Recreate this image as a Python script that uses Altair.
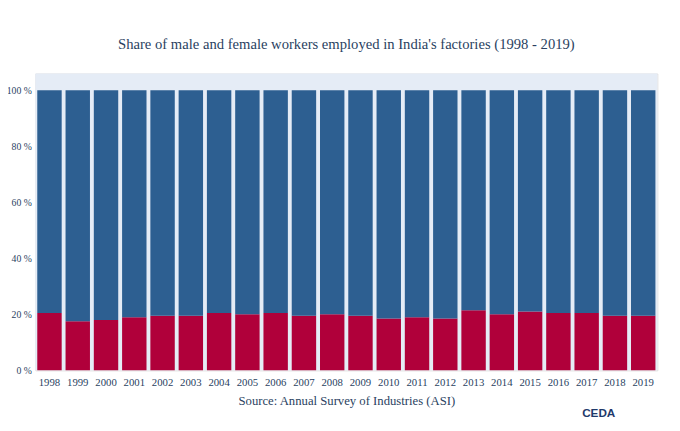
import altair as alt
import pandas as pd

years = [str(y) for y in range(1998, 2020)]
female = [20.5, 17.5, 18, 19, 19.5, 19.5, 20.5, 20, 20.5, 19.5, 20, 19.5,
          18.5, 19, 18.5, 21.5, 20, 21, 20.5, 20.5, 19.5, 19.5]
male = [100 - f for f in female]

df = pd.DataFrame({
    "year": years * 2,
    "share": female + male,
    "gender": ["Female"] * len(years) + ["Male"] * len(years),
    "order": [0] * len(years) + [1] * len(years),
})

font = "Liberation Serif"
W, H = 637, 304

bg = alt.Chart(pd.DataFrame({"a": [0]})).mark_rect(color="#e5ecf6").encode(
    x=alt.value(0), x2=alt.value(W), y=alt.value(0), y2=alt.value(H)
)

bars = alt.Chart(df).mark_bar(size=25).encode(
    x=alt.X("year:N", title="Source: Annual Survey of Industries (ASI)",
            axis=alt.Axis(labelAngle=0, ticks=False, domain=False, labelPadding=6,
                          titlePadding=8, titleFontSize=13, titleFontWeight="normal",
                          titleColor="#2a3f5f", labelColor="#2a3f5f", labelFont=font,
                          titleFont=font, labelFontSize=11)),
    y=alt.Y("share:Q", stack="zero", title=None,
            scale=alt.Scale(domain=[0, 106], nice=False),
            axis=alt.Axis(values=[0, 20, 40, 60, 80, 100], labelExpr="datum.value + ' %'",
                          grid=False, ticks=False, domain=False, labelFont=font,
                          labelColor="#2a3f5f", labelFontSize=10, labelPadding=4)),
    color=alt.Color("gender:N", legend=None,
                    scale=alt.Scale(domain=["Female", "Male"], range=["#b0003a", "#2d5f91"])),
    order=alt.Order("order:Q"),
)

logo = alt.Chart(pd.DataFrame({"t": ["CEDA"]})).mark_text(
    font="Liberation Sans", fontWeight="bold", fontSize=12, color="#1f3a6b", align="left"
).encode(x=alt.value(560), y=alt.value(348), text="t:N")

chart = alt.layer(bg, bars, logo).properties(
    width=W, height=H,
    autosize=alt.AutoSizeParams(type="none"),
    padding={"left": 28, "top": 62, "right": 15, "bottom": 57},
    title=alt.Title("Share of male and female workers employed in India's factories (1998 - 2019)",
                    font=font, fontSize=15, fontWeight="normal", color="#2a3f5f", offset=22),
).configure_view(stroke=None).configure(background="white")

chart.save("out.html", embed_options={"renderer": "svg", "actions": False})
